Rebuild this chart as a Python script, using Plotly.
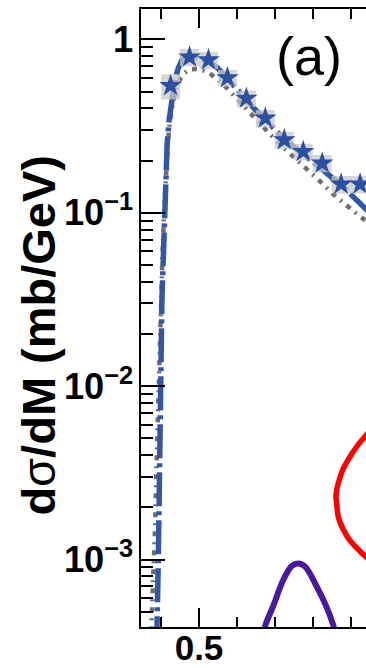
import plotly.graph_objects as go

# Measured spectrum: bin centres (GeV), cross section (mb/GeV), systematic uncertainty
mass = [0.425, 0.475, 0.525, 0.575, 0.625, 0.675, 0.725, 0.775, 0.825, 0.875, 0.925]
xsec = [0.54, 0.79, 0.76, 0.60, 0.457, 0.351, 0.263, 0.225, 0.193, 0.146, 0.146]
xsec_sys = [0.09, 0.09, 0.085, 0.065, 0.05, 0.04, 0.03, 0.025, 0.022, 0.017, 0.017]
bin_width = 0.05

# Total model (dash-dot blue)
total_m = [0.388, 0.390, 0.3925, 0.395, 0.397, 0.399, 0.402, 0.405, 0.4075, 0.410, 0.413,
           0.416, 0.421, 0.428, 0.436, 0.445, 0.455, 0.465, 0.475, 0.49, 0.50, 0.525,
           0.55, 0.575, 0.60, 0.625, 0.65, 0.675, 0.70, 0.725, 0.75, 0.775, 0.80,
           0.825, 0.85, 0.875, 0.90, 0.925, 0.95]
total_y = [3.0e-4, 4.3e-4, 9.5e-4, 2.3e-3, 6.5e-3, 0.016, 0.030, 0.048, 0.075, 0.11, 0.17,
           0.25, 0.34, 0.45, 0.57, 0.68, 0.76, 0.80, 0.81, 0.79, 0.78, 0.75,
           0.68, 0.59, 0.515, 0.45, 0.39, 0.345, 0.30, 0.265, 0.24, 0.218, 0.20,
           0.178, 0.16, 0.146, 0.128, 0.113, 0.10]

# Second model (grey dotted)
alt_m = [0.372, 0.3752, 0.380, 0.384, 0.388, 0.392, 0.396, 0.400, 0.404, 0.408, 0.412,
         0.417, 0.423, 0.430, 0.440, 0.450, 0.462, 0.475, 0.49, 0.505, 0.525, 0.55,
         0.575, 0.60, 0.625, 0.65, 0.675, 0.70, 0.725, 0.75, 0.775, 0.80, 0.825,
         0.85, 0.875, 0.90, 0.925, 0.95]
alt_y = [3.0e-4, 4.3e-4, 9e-4, 1.5e-3, 3.5e-3, 8e-3, 0.018, 0.035, 0.06, 0.10, 0.16,
         0.24, 0.33, 0.42, 0.52, 0.59, 0.64, 0.67, 0.675, 0.67, 0.645, 0.585,
         0.52, 0.455, 0.40, 0.345, 0.30, 0.265, 0.235, 0.21, 0.188, 0.168, 0.148,
         0.13, 0.117, 0.105, 0.095, 0.087]

# Narrow resonance contribution (purple)
peak_m = [0.655, 0.674, 0.696, 0.722, 0.745, 0.762, 0.780, 0.811, 0.837, 0.854, 0.875]
peak_y = [2.2e-4, 4.1e-4, 5.4e-4, 7.6e-4, 9.2e-4, 9.5e-4, 9.1e-4, 6.95e-4, 5.3e-4, 4.2e-4, 2.8e-4]

# Red contour
loop_m = [0.975, 0.9406, 0.919, 0.898, 0.880, 0.8675, 0.8633, 0.8615, 0.8633, 0.8675,
          0.880, 0.898, 0.919, 0.9406, 0.975]
loop_y = [6.5e-3, 5.2e-3, 4.57e-3, 3.9e-3, 3.32e-3, 2.75e-3, 2.51e-3, 2.3e-3, 2.1e-3,
          1.76e-3, 1.5e-3, 1.29e-3, 1.15e-3, 1.035e-3, 0.9e-3]

FONT = "Liberation Sans, Arial, sans-serif"

fig = go.Figure()

fig.add_trace(go.Scatter(x=alt_m, y=alt_y, mode="lines",
                         line=dict(color="#6e6e6e", width=4.5, dash="5px,6px,2px,6px")))
fig.add_trace(go.Scatter(x=total_m, y=total_y, mode="lines",
                         line=dict(color="#3457a4", width=5.5, dash="34px,5px,4px,5px")))

# Systematic boxes as filled polygons
bx, by = [], []
for m, v, s in zip(mass, xsec, xsec_sys):
    lo, hi = v - s, v + s
    x0, x1 = m - bin_width / 2, m + bin_width / 2
    bx += [x0, x1, x1, x0, x0, None]
    by += [lo, lo, hi, hi, lo, None]
fig.add_trace(go.Scatter(x=bx, y=by, mode="lines", fill="toself",
                         fillcolor="rgba(200,200,200,0.75)", line=dict(width=0)))

fig.add_trace(go.Scatter(x=mass, y=xsec, mode="markers",
                         marker=dict(symbol="star", size=17, color="#2d4fa0",
                                     line=dict(width=0))))

fig.add_trace(go.Scatter(x=peak_m, y=peak_y, mode="lines", line_shape="spline",
                         line=dict(color="#4a1a9e", width=6)))
fig.add_trace(go.Scatter(x=loop_m, y=loop_y, mode="lines", line_shape="spline",
                         line=dict(color="#ff0000", width=5.5)))

fig.update_layout(
    template="none",
    width=366, height=668,
    margin=dict(l=141, r=0, t=9, b=41, autoexpand=False),
    paper_bgcolor="white", plot_bgcolor="white",
    showlegend=False,
    font=dict(family=FONT, color="black"),
)

fig.update_xaxes(
    range=[0.347, 0.9406], tick0=0, dtick=0.5, automargin=False,
    ticks="inside", ticklen=19, tickwidth=2, tickcolor="black",
    minor=dict(dtick=0.1, ticklen=10, tickwidth=2, tickcolor="black", ticks="inside",
               showgrid=False),
    showline=True, linewidth=2, linecolor="black", mirror="ticks",
    showgrid=False, zeroline=False, ticklabelstandoff=-11,
    tickfont=dict(size=35, family=FONT, weight="bold"),
)
fig.update_yaxes(
    type="log", range=[-3.389, 0.175], dtick=1, exponentformat="power", automargin=False,
    ticks="inside", ticklen=24, tickwidth=2, tickcolor="black",
    minor=dict(dtick="D1", ticklen=12, tickwidth=2, tickcolor="black", ticks="inside",
               showgrid=False),
    showline=True, linewidth=2, linecolor="black", mirror=False,
    showgrid=False, zeroline=False,
    tickfont=dict(size=29, family=FONT, weight="bold"),
)

fig.add_annotation(text="d<span style='font-weight:normal'>σ</span>/dM (mb/GeV)",
                   xref="paper", yref="paper", x=-0.455, y=0.4725,
                   xanchor="center", yanchor="middle",
                   textangle=-90, showarrow=False,
                   font=dict(size=47, family=FONT, weight="bold"))
fig.add_annotation(text="(a)", xref="paper", yref="paper", x=0.7467, y=0.924,
                   xanchor="center", yanchor="middle",
                   showarrow=False, font=dict(size=54, family=FONT))

fig.write_html("out.html")
